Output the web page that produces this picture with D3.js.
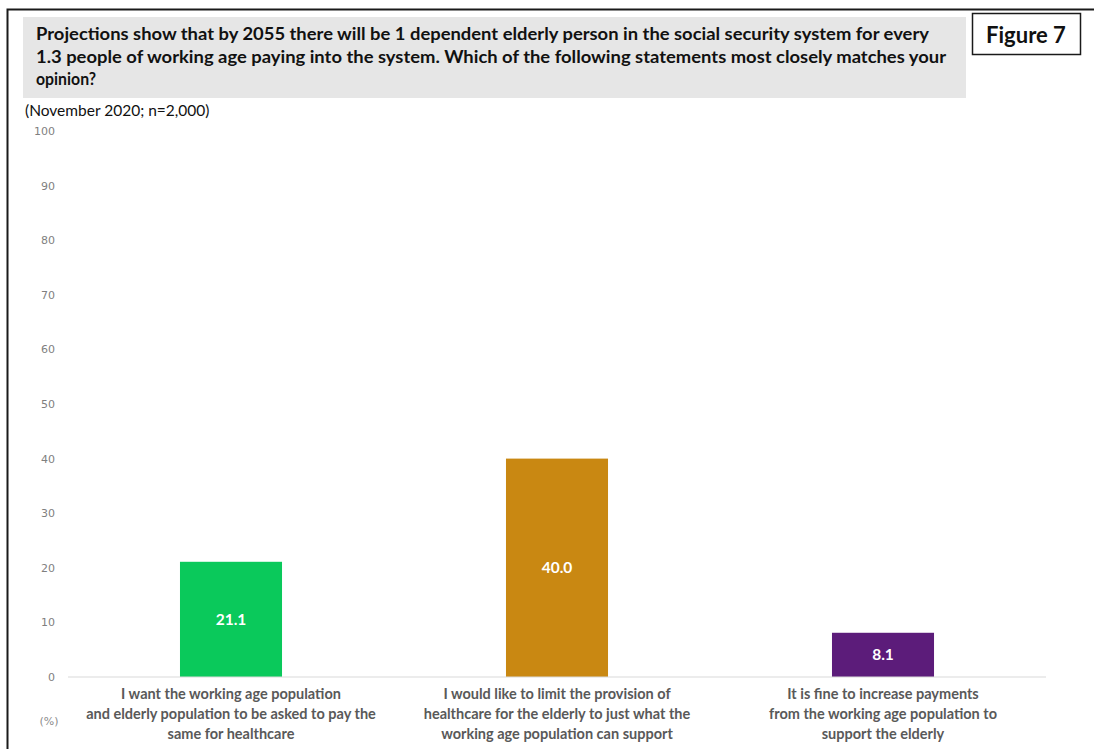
<!DOCTYPE html>
<html>
<head>
<meta charset="utf-8">
<script src="https://cdn.jsdelivr.net/npm/d3@7"></script>
<style>
  html, body { margin: 0; padding: 0; background: #fff; }
  svg { display: block; }
</style>
</head>
<body>
<svg id="chart" width="1094" height="749"></svg>
<script>
// Survey responses (%), November 2020, n=2,000
const categories = [
  ["I want the working age population", "and elderly population to be asked to pay the", "same for healthcare"],
  ["I would like to limit the provision of", "healthcare for the elderly to just what the", "working age population can support"],
  ["It is fine to increase payments", "from the working age population to", "support the elderly"]
];
const values = [21.1, 40.0, 8.1];
const barColors = ["#0AC95B", "#C98812", "#5C1C7A"];
const yTicks = [0, 10, 20, 30, 40, 50, 60, 70, 80, 90, 100];
const titleLines = [
  "Projections show that by 2055 there will be 1 dependent elderly person in the social security system for every",
  "1.3 people of working age paying into the system. Which of the following statements most closely matches your",
  "opinion?"
];
const subtitle = "(November 2020; n=2,000)";
const figureLabel = "Figure 7";
const unitLabel = "(%)";

const svg = d3.select("#chart");
const font = "Lato, 'Open Sans', sans-serif";

// outer frame (runs off the right and bottom edges)
svg.append("path")
  .attr("d", "M7.5,760 V9.5 H1100")
  .attr("fill", "none").attr("stroke", "#1a1a1a").attr("stroke-width", 2);

// title panel
svg.append("rect").attr("x", 23).attr("y", 17).attr("width", 943).attr("height", 81).attr("fill", "#E6E6E6");
const titleWidths = [893, 910, 60];
titleLines.forEach((t, i) => {
  svg.append("text")
    .attr("x", 36).attr("y", 40 + i * 22.5)
    .attr("font-family", font).attr("font-weight", "bold").attr("font-size", 16.5)
    .attr("fill", "#111").text(t)
    .attr("textLength", titleWidths[i]).attr("lengthAdjust", "spacingAndGlyphs");
});

// figure tag
svg.append("rect").attr("x", 972.5).attr("y", 13.5).attr("width", 108).attr("height", 41)
  .attr("fill", "#fff").attr("stroke", "#1a1a1a").attr("stroke-width", 1.5);
svg.append("text").attr("x", 1026).attr("y", 42.5).attr("text-anchor", "middle")
  .attr("font-family", font).attr("font-weight", "bold").attr("font-size", 22)
  .attr("fill", "#111").text(figureLabel);

svg.append("text").attr("x", 25).attr("y", 115.5)
  .attr("font-family", font).attr("font-size", 15.5).attr("fill", "#111").text(subtitle);

// scales
const x = d3.scaleBand().domain(d3.range(values.length)).range([68, 1046]).paddingInner(0.687).paddingOuter(0.3435);
const y = d3.scaleLinear().domain([0, 100]).range([677, 131]);

// y axis labels (no axis line)
const yAxis = svg.append("g").attr("transform", "translate(55,0)")
  .call(d3.axisLeft(y).tickValues(yTicks).tickSize(0).tickPadding(0));
yAxis.select(".domain").remove();
yAxis.selectAll("text").attr("font-family", "'DejaVu Sans', sans-serif").attr("font-size", 11).attr("fill", "#7f7f7f");

// bars
svg.append("g").selectAll("rect").data(values).join("rect")
  .attr("x", (d, i) => x(i)).attr("width", x.bandwidth())
  .attr("y", d => y(d)).attr("height", d => y(0) - y(d))
  .attr("fill", (d, i) => barColors[i]);

// baseline
svg.append("line").attr("x1", 68).attr("x2", 1046).attr("y1", y(0)).attr("y2", y(0))
  .attr("stroke", "#d9d9d9").attr("stroke-width", 1.2);

// value labels, centred in each bar
svg.append("g").selectAll("text").data(values).join("text")
  .attr("x", (d, i) => x(i) + x.bandwidth() / 2)
  .attr("y", d => (y(d) + y(0)) / 2 + 5.5)
  .attr("text-anchor", "middle")
  .attr("font-family", font).attr("font-weight", "bold").attr("font-size", 15.5)
  .attr("fill", "#fff").text(d => d.toFixed(1));

// category labels
const catG = svg.append("g");
categories.forEach((lines, i) => {
  const cx = x(i) + x.bandwidth() / 2;
  lines.forEach((t, j) => {
    catG.append("text").attr("x", cx).attr("y", 699 + j * 20)
      .attr("text-anchor", "middle")
      .attr("font-family", font).attr("font-weight", "bold").attr("font-size", 14.5)
      .attr("fill", "#595959").text(t);
  });
});

svg.append("text").attr("x", 49).attr("y", 725).attr("text-anchor", "middle")
  .attr("font-family", "'DejaVu Sans', sans-serif").attr("font-size", 11).attr("fill", "#8c8c8c").text(unitLabel);
</script>
</body>
</html>
